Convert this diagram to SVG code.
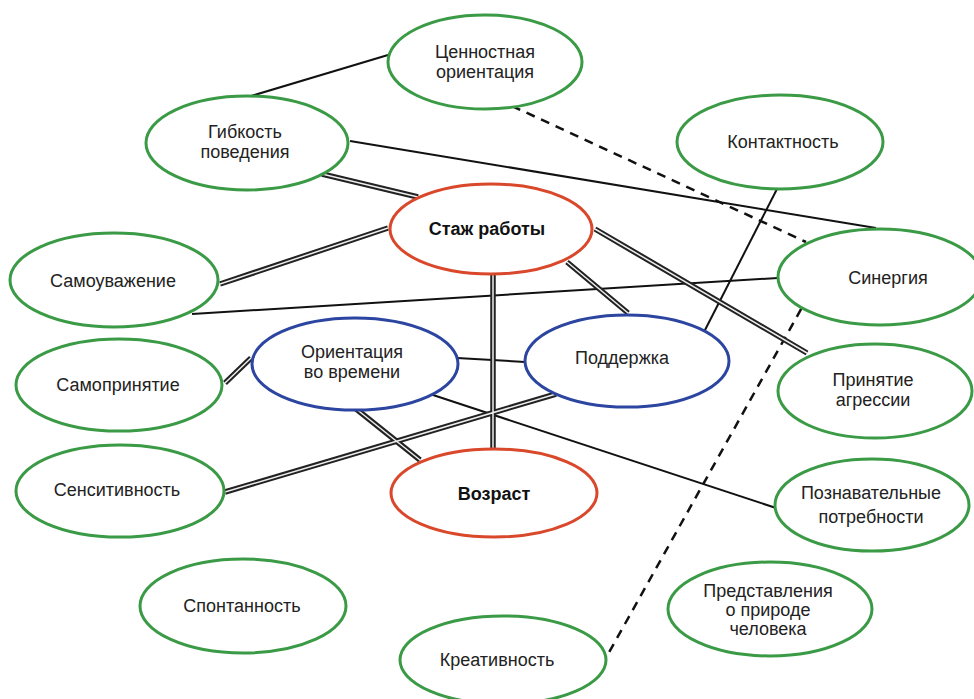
<svg xmlns="http://www.w3.org/2000/svg" width="974" height="699" viewBox="0 0 974 699">
<style>
.n ellipse{fill:#fff;stroke-width:3}
.g ellipse{stroke:#3a9a45}
.r ellipse{stroke:#d9482b}
.b ellipse{stroke:#2c45a0}
text{font-family:"Liberation Sans",Arial,sans-serif;font-size:18px;fill:#222;text-anchor:middle}
.bold text{font-weight:bold;fill:#111}
.s{stroke:#111;stroke-width:2;fill:none}
.d{stroke:#111;stroke-width:2.5;fill:none;stroke-dasharray:9 7}
.dbo{stroke:#222;stroke-width:5.5;fill:none}
.dbi{stroke:#eee;stroke-width:1.5;fill:none}
</style>
<rect width="974" height="699" fill="#fff"/>
<g id="connectors">
<line class="s" x1="251" y1="96" x2="388" y2="55"/>
<line class="s" x1="350" y1="141" x2="876" y2="228"/>
<line class="s" x1="192" y1="314" x2="778" y2="278"/>
<line class="s" x1="777" y1="189" x2="704" y2="332"/>
<line class="s" x1="457" y1="358" x2="525" y2="362"/>
<line class="s" x1="430" y1="394" x2="776" y2="508"/>
<line class="d" x1="512" y1="106" x2="806" y2="242"/>
<line class="d" x1="809" y1="295" x2="607" y2="656"/>
<g id="double-lines">
<path class="dbo" d="M322 174L418 197M220 284L388 228M567 262L628 313M595 229L807 353M493 275L493 452M225 383L251 358M355 408L420 460M225 492L556 394"/>
<path class="dbi" d="M322 174L418 197M220 284L388 228M567 262L628 313M595 229L807 353M493 275L493 452M225 383L251 358M355 408L420 460M225 492L556 394"/>
</g>
</g>
<g id="n-cennost" class="n g"><ellipse cx="485" cy="62" rx="97" ry="47"/><text x="485" y="58">Ценностная</text><text x="485" y="78">ориентация</text></g>
<g id="n-gibkost" class="n g"><ellipse cx="247" cy="143" rx="101" ry="47"/><text x="245" y="138">Гибкость</text><text x="245" y="158">поведения</text></g>
<g id="n-kontakt" class="n g"><ellipse cx="780" cy="142" rx="103" ry="47"/><text x="783" y="148">Контактность</text></g>
<g id="n-stazh" class="n r bold"><ellipse cx="491" cy="229" rx="101" ry="45"/><text x="487" y="235">Стаж работы</text></g>
<g id="n-sinerg" class="n g"><ellipse cx="880" cy="277" rx="102" ry="48"/><text x="888" y="284">Синергия</text></g>
<g id="n-samouv" class="n g"><ellipse cx="114" cy="280" rx="104" ry="47"/><text x="113" y="287">Самоуважение</text></g>
<g id="n-orient" class="n b"><ellipse cx="355" cy="364" rx="103" ry="46"/><text x="352" y="358">Ориентация</text><text x="352" y="378">во времени</text></g>
<g id="n-podder" class="n b"><ellipse cx="627" cy="361" rx="102" ry="46"/><text x="622" y="364">Поддержка</text></g>
<g id="n-samopr" class="n g"><ellipse cx="119" cy="385" rx="103" ry="46"/><text x="118" y="391">Самопринятие</text></g>
<g id="n-prinyat" class="n g"><ellipse cx="875" cy="391" rx="97" ry="47"/><text x="873" y="386">Принятие</text><text x="873" y="406">агрессии</text></g>
<g id="n-sensit" class="n g"><ellipse cx="120" cy="491" rx="104" ry="46"/><text x="117" y="496">Сенситивность</text></g>
<g id="n-vozrast" class="n r bold"><ellipse cx="494" cy="493" rx="103" ry="44"/><text x="494" y="500">Возраст</text></g>
<g id="n-poznav" class="n g"><ellipse cx="872" cy="505" rx="97" ry="46"/><text x="871" y="499">Познавательные</text><text x="871" y="523">потребности</text></g>
<g id="n-spont" class="n g"><ellipse cx="243" cy="606" rx="103" ry="47"/><text x="242" y="612">Спонтанность</text></g>
<g id="n-predst" class="n g"><ellipse cx="770" cy="609" rx="102" ry="47"/><text x="768" y="597">Представления</text><text x="768" y="616">о природе</text><text x="768" y="635">человека</text></g>
<g id="n-kreat" class="n g"><ellipse cx="503" cy="660" rx="103" ry="44"/><text x="497" y="666">Креативность</text></g>
</svg>
